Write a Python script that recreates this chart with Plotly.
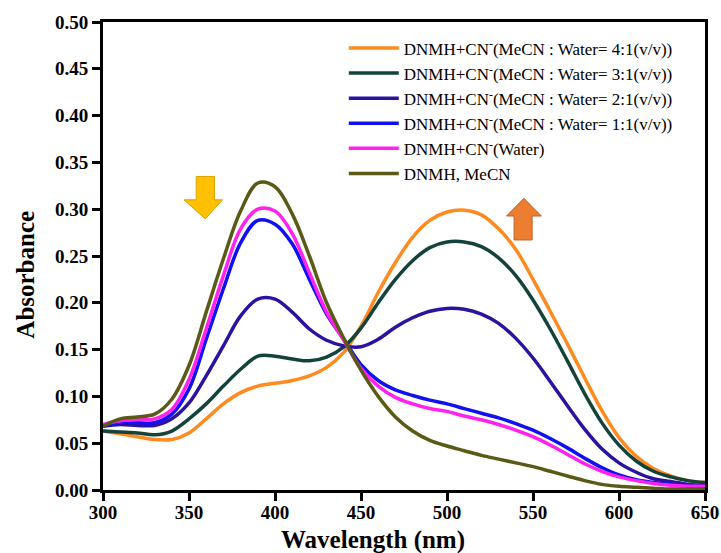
import plotly.graph_objects as go

# Wavelength grid (nm)
wavelength = [300, 310, 320, 330, 340, 350, 360, 370, 380, 390, 400, 410, 420, 430,
              440, 450, 460, 470, 480, 490, 500, 510, 520, 530, 540, 550, 560, 570,
              580, 590, 600, 610, 620, 630, 640, 650]

# Absorbance spectra
abs_41 = [0.063, 0.060, 0.057, 0.054, 0.054, 0.061, 0.076, 0.092, 0.104, 0.111, 0.114,
          0.117, 0.122, 0.131, 0.147, 0.175, 0.211, 0.243, 0.270, 0.288, 0.297, 0.299,
          0.294, 0.279, 0.257, 0.225, 0.191, 0.156, 0.120, 0.085, 0.056, 0.036, 0.023, 0.015,
          0.010, 0.008]
abs_31 = [0.063, 0.062, 0.061, 0.059, 0.063, 0.076, 0.092, 0.111, 0.129, 0.143, 0.143,
          0.140, 0.138, 0.142, 0.153, 0.173, 0.200, 0.225, 0.245, 0.259, 0.265, 0.265,
          0.260, 0.248, 0.229, 0.203, 0.172, 0.138, 0.103, 0.072, 0.048, 0.031, 0.020, 0.014,
          0.010, 0.008]
abs_21 = [0.068, 0.070, 0.069, 0.069, 0.076, 0.093, 0.122, 0.154, 0.186, 0.204, 0.204,
          0.190, 0.172, 0.160, 0.154, 0.153, 0.161, 0.174, 0.184, 0.191, 0.194, 0.193,
          0.188, 0.178, 0.162, 0.141, 0.116, 0.090, 0.065, 0.044, 0.029, 0.019, 0.012, 0.009,
          0.006, 0.005]
abs_11 = [0.068, 0.072, 0.072, 0.072, 0.081, 0.108, 0.161, 0.215, 0.264, 0.288, 0.284,
          0.263, 0.225, 0.188, 0.161, 0.134, 0.117, 0.107, 0.101, 0.096, 0.092, 0.087,
          0.082, 0.077, 0.071, 0.064, 0.055, 0.045, 0.034, 0.024, 0.016, 0.011, 0.008, 0.006,
          0.005, 0.004]
abs_water = [0.070, 0.074, 0.075, 0.076, 0.086, 0.118, 0.172, 0.229, 0.279, 0.300, 0.298,
             0.274, 0.232, 0.190, 0.160, 0.130, 0.111, 0.099, 0.092, 0.087, 0.084, 0.079,
             0.075, 0.070, 0.064, 0.057, 0.048, 0.038, 0.028, 0.020, 0.014, 0.010, 0.007, 0.005,
             0.004, 0.004]
abs_mecn = [0.068, 0.076, 0.078, 0.081, 0.097, 0.133, 0.190, 0.247, 0.298, 0.328, 0.324,
            0.295, 0.250, 0.200, 0.162, 0.128, 0.100, 0.078, 0.063, 0.053, 0.047, 0.042,
            0.037, 0.033, 0.029, 0.025, 0.020, 0.015, 0.010, 0.006, 0.004, 0.003, 0.002, 0.001,
            0.001, 0.001]

series_names = [
    "DNMH+CN<sup>-</sup>(MeCN : Water= 4:1(v/v))",
    "DNMH+CN<sup>-</sup>(MeCN : Water= 3:1(v/v))",
    "DNMH+CN<sup>-</sup>(MeCN : Water= 2:1(v/v))",
    "DNMH+CN<sup>-</sup>(MeCN : Water= 1:1(v/v))",
    "DNMH+CN<sup>-</sup>(Water)",
    "DNMH, MeCN",
]
series_values = [abs_41, abs_31, abs_21, abs_11, abs_water, abs_mecn]
series_colors = ["#FF8A1F", "#13433A", "#2B12A0", "#1010F0", "#FF22EE", "#5A5A16"]

y_ticks = [0.00, 0.05, 0.10, 0.15, 0.20, 0.25, 0.30, 0.35, 0.40, 0.45, 0.50]
x_ticks = [300, 350, 400, 450, 500, 550, 600, 650]

fig = go.Figure()
for name, vals, col in zip(series_names, series_values, series_colors):
    fig.add_trace(go.Scatter(
        x=wavelength, y=vals, mode="lines", name=name,
        line=dict(color=col, width=3.5, shape="spline", smoothing=1.0),
    ))

# Trend arrows: decreasing band near 390 nm, increasing band near 505 nm
down_arrow = ("M 354.2 0.3350 L 364.8 0.3350 L 364.8 0.3100 L 369.5 0.3100 "
              "L 359.5 0.2896 L 347.1 0.3100 L 354.2 0.3100 Z")
up_arrow = ("M 539.0 0.2671 L 549.5 0.2671 L 549.5 0.2927 L 554.9 0.2927 "
            "L 544.7 0.3116 L 534.6 0.2927 L 539.0 0.2927 Z")
fig.add_shape(type="path", path=down_arrow, xref="x", yref="y",
              fillcolor="#FFC000", line=dict(color="#D9A300", width=1))
fig.add_shape(type="path", path=up_arrow, xref="x", yref="y",
              fillcolor="#ED7D31", line=dict(color="#C0622A", width=1))

serif = "Liberation Serif, Times New Roman, serif"
axis_font = dict(family=serif, size=19, color="black", weight="bold")

# Axis titles placed as paper-anchored annotations
fig.add_annotation(text="Wavelength (nm)", xref="paper", yref="paper",
                   x=0.449, y=-0.107, xanchor="center", yanchor="middle",
                   showarrow=False,
                   font=dict(family=serif, size=25, color="black", weight="bold"))
fig.add_annotation(text="Absorbance", xref="paper", yref="paper",
                   x=-0.128, y=0.46, xanchor="center", yanchor="middle",
                   textangle=-90, showarrow=False,
                   font=dict(family=serif, size=25, color="black", weight="bold"))

fig.update_layout(
    width=721, height=553,
    margin=dict(l=103, r=16, t=22, b=63),
    paper_bgcolor="white", plot_bgcolor="white",
    showlegend=True,
    legend=dict(
        x=0.40, y=0.982, xanchor="left", yanchor="top",
        bgcolor="rgba(0,0,0,0)", borderwidth=0,
        font=dict(family=serif, size=17, color="black"),
        itemwidth=50, tracegroupgap=0,
    ),
    xaxis=dict(
        range=[300, 650], tickvals=x_ticks,
        showgrid=False, zeroline=False, automargin=False,
        showline=True, linewidth=3, linecolor="black", mirror=True,
        ticks="outside", ticklen=8, tickwidth=2.5, tickcolor="black",
        ticklabelstandoff=-5,
        tickfont=axis_font,
    ),
    yaxis=dict(
        range=[0, 0.5], tickvals=y_ticks, tickformat=".2f",
        showgrid=False, zeroline=False, automargin=False,
        showline=True, linewidth=3, linecolor="black", mirror=True,
        ticks="outside", ticklen=8, tickwidth=2.5, tickcolor="black",
        tickfont=axis_font,
    ),
)

fig.write_html("out.html")
